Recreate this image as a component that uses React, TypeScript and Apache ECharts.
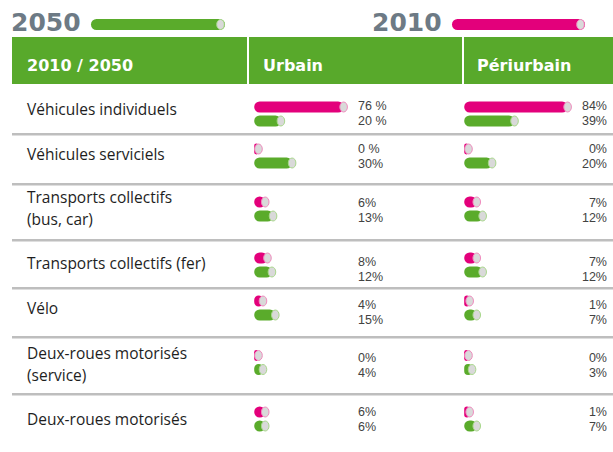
import React, { useEffect, useRef } from "react";
import * as echarts from "echarts";

// ---- data ----
const categories = [
  "Véhicules individuels",
  "Véhicules serviciels",
  "Transports collectifs\n(bus, car)",
  "Transports collectifs (fer)",
  "Vélo",
  "Deux-roues motorisés\n(service)",
  "Deux-roues motorisés",
];
const years = ["2010", "2050"];
const columns = ["Urbain", "Périurbain"];
const urbain2010 = [76, 0, 6, 8, 4, 0, 6];
const urbain2050 = [20, 30, 13, 12, 15, 4, 6];
const peri2010 = [84, 0, 7, 7, 1, 0, 1];
const peri2050 = [39, 20, 12, 12, 7, 3, 7];
const urbainLabels2010 = ["76 %", "0 %", "6%", "8%", "4%", "0%", "6%"];
const urbainLabels2050 = ["20 %", "30%", "13%", "12%", "15%", "4%", "6%"];
const periLabels2010 = ["84%", "0%", "7%", "7%", "1%", "0%", "1%"];
const periLabels2050 = ["39%", "20%", "12%", "12%", "7%", "3%", "7%"];

// ---- layout ----
const MAGENTA = "#e3007b";
const GREEN = "#5aab2b";
const HEADER_GREEN = "#58a92b";
const CAP = "#d9d9d9";
const GREY_TXT = "#6d7a85";
const BODY_FONT = "'Open Sans', sans-serif";
const PCT_FONT = "'Liberation Sans', Arial, sans-serif";
const BOLD_FONT = "'DejaVu Sans', sans-serif";

const barCenter = [107, 149, 202, 258, 301, 355.5, 412];
const labelTop = [106, 149, 203, 262, 305, 358, 412];
const LABEL_PITCH = 14.6;
const rowLabelCenter = [109, 154, 208, 263, 308, 364, 419];
const separators = [134, 184, 240, 288, 337, 394];
const PITCH = 14;
const colLeft = [258.5, 468.5];
const colWidth = [112, 118];
const colLabelX = [358, 607];
const colLabelAlign = ["left", "right"];

export default function App() {
  const ref = useRef<HTMLDivElement>(null);
  useEffect(() => {
    if (!ref.current) return;
    const chart = echarts.init(ref.current, null, { renderer: "svg" });

    const grids: any[] = [];
    const xAxes: any[] = [];
    const yAxes: any[] = [];
    const series: any[] = [];

    const vals = [
      [urbain2010, urbain2050],
      [peri2010, peri2050],
    ];
    const labs = [
      [urbainLabels2010, urbainLabels2050],
      [periLabels2010, periLabels2050],
    ];

    categories.forEach((cat, r) => {
      columns.forEach((col, c) => {
        const idx = grids.length;
        grids.push({
          left: colLeft[c],
          width: colWidth[c],
          top: barCenter[r] - PITCH / 2,
          height: PITCH * 2,
          containLabel: false,
        });
        xAxes.push({ type: "value", min: 0, max: 100, show: false, gridIndex: idx });
        yAxes.push({
          type: "category",
          data: years,
          inverse: true,
          show: false,
          gridIndex: idx,
        });
        const labelsHere = [labs[c][0][r], labs[c][1][r]];
        series.push({
          type: "custom",
          name: `${col} - ${cat}`,
          xAxisIndex: idx,
          yAxisIndex: idx,
          data: [
            [vals[c][0][r], 0],
            [vals[c][1][r], 1],
          ],
          renderItem: (params: any, api: any) => {
            const v = api.value(0);
            const k = api.value(1);
            const p = api.coord([v, k]);
            const p0 = api.coord([0, k]);
            const color = k === 0 ? MAGENTA : GREEN;
            const ring = k === 0 ? "#f08dbf" : "#a9d88c";
            return {
              type: "group",
              children: [
                {
                  type: "rect",
                  shape: { x: p0[0] - 4.3, y: p[1] - 5.5, width: p[0] - p0[0] + 4.3, height: 11, r: 5.5 },
                  style: { fill: color },
                },
                {
                  type: "ellipse",
                  shape: { cx: p[0], cy: p[1], rx: 3.8, ry: 5 },
                  style: { fill: CAP, stroke: ring, lineWidth: 1 },
                },
                {
                  type: "text",
                  style: {
                    x: colLabelX[c],
                    y: labelTop[r] + k * LABEL_PITCH,
                    text: labelsHere[params.dataIndex],
                    fill: "#424242",
                    font: `12.5px ${PCT_FONT}`,
                    align: colLabelAlign[c],
                    verticalAlign: "middle",
                  },
                },
              ],
            };
          },
        });
      });
    });

    const graphics: any[] = [];
    // legend
    const legendBar = (x: number, w: number, color: string, ring: string) => [
      {
        type: "rect",
        shape: { x, y: 19, width: w, height: 11, r: 5.5 },
        style: { fill: color },
      },
      {
        type: "ellipse",
        shape: { cx: x + w - 4.5, cy: 24.5, rx: 3.8, ry: 5 },
        style: { fill: CAP, stroke: ring, lineWidth: 1 },
      },
    ];
    graphics.push(
      {
        type: "text",
        style: { x: 11, y: 22, text: years[1], font: `bold 25px ${BOLD_FONT}`, fill: GREY_TXT, verticalAlign: "middle" },
      },
      ...legendBar(91, 134, GREEN, "#a9d88c"),
      {
        type: "text",
        style: { x: 372, y: 22, text: years[0], font: `bold 25px ${BOLD_FONT}`, fill: GREY_TXT, verticalAlign: "middle" },
      },
      ...legendBar(452, 133, MAGENTA, "#f08dbf")
    );
    // header band
    graphics.push(
      { type: "rect", shape: { x: 12, y: 37, width: 601, height: 47 }, style: { fill: HEADER_GREEN } },
      { type: "rect", shape: { x: 247, y: 37, width: 2, height: 47 }, style: { fill: "#ffffff" } },
      { type: "rect", shape: { x: 462, y: 37, width: 2, height: 47 }, style: { fill: "#ffffff" } },
      {
        type: "text",
        style: { x: 27, y: 65, text: `${years[0]} / ${years[1]}`, font: `bold 16px ${BOLD_FONT}`, fill: "#fff", verticalAlign: "middle" },
      },
      {
        type: "text",
        style: { x: 263, y: 65, text: columns[0], font: `bold 16px ${BOLD_FONT}`, fill: "#fff", verticalAlign: "middle" },
      },
      {
        type: "text",
        style: { x: 477, y: 65, text: columns[1], font: `bold 16px ${BOLD_FONT}`, fill: "#fff", verticalAlign: "middle" },
      }
    );
    // separators
    separators.forEach((y) => {
      graphics.push(
        { type: "line", shape: { x1: 12, y1: y, x2: 613, y2: y }, style: { stroke: "#7f7f7f", lineWidth: 1.2 } },
        { type: "line", shape: { x1: 12, y1: y + 1.5, x2: 613, y2: y + 1.5 }, style: { stroke: "#dedede", lineWidth: 1 } }
      );
    });
    // row labels
    categories.forEach((cat, r) => {
      graphics.push({
        type: "text",
        style: {
          x: 27,
          y: rowLabelCenter[r],
          text: cat,
          font: `15.5px ${BODY_FONT}`,
          lineHeight: 22,
          fill: "#1e1e1e",
          verticalAlign: "middle",
        },
      });
    });

    chart.setOption({
      animation: false,
      backgroundColor: "#ffffff",
      grid: grids,
      xAxis: xAxes,
      yAxis: yAxes,
      series,
      graphic: { elements: graphics },
    });
    return () => chart.dispose();
  }, []);

  return (
    <div
      ref={ref}
      style={{ position: "absolute", left: 0, top: 0, width: 613, height: 452, background: "#fff" }}
    />
  );
}
